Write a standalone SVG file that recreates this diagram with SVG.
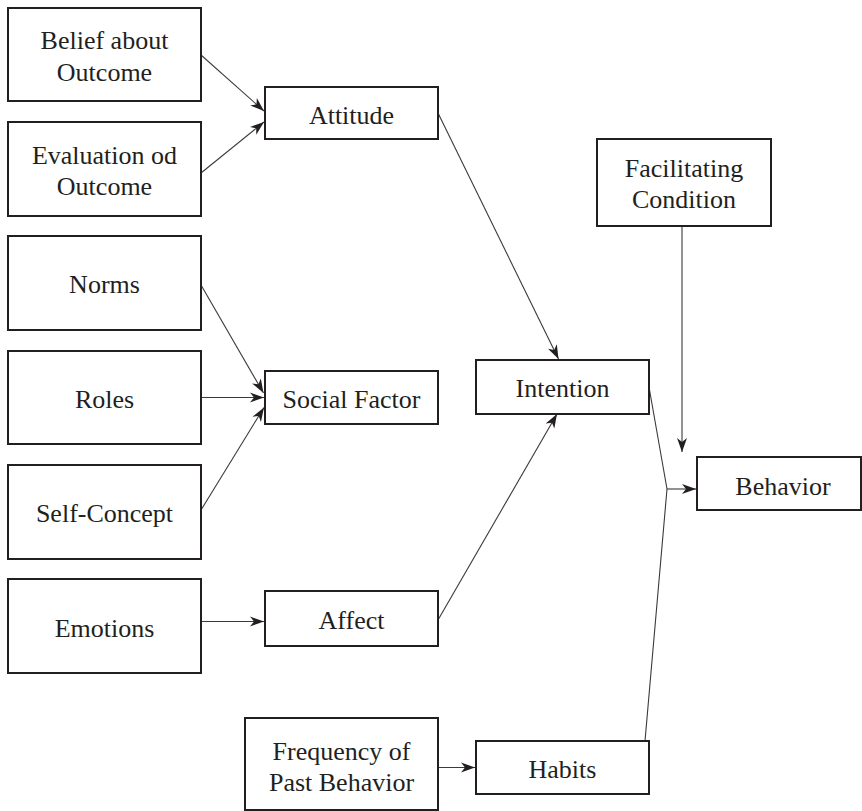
<svg xmlns="http://www.w3.org/2000/svg" width="862" height="811" viewBox="0 0 862 811">
<defs>
<style>
.box{fill:#fff;stroke:#231f20;stroke-width:2}
.lbl{font-size:26px;fill:#231f20;text-anchor:middle}
.con{fill:none;stroke:#3a3a3a;stroke-width:1.1}
</style>
<marker id="arr" markerUnits="userSpaceOnUse" markerWidth="15" markerHeight="11" refX="14" refY="5.5" orient="auto">
<path d="M0,0.5 L14,5.5 L0,10.5 L4,5.5 Z" fill="#231f20"/>
</marker>
</defs>
<rect width="862" height="811" fill="#fff"/>
<g id="connectors">
<line class="con" x1="201" y1="55" x2="264" y2="111" marker-end="url(#arr)"/>
<line class="con" x1="201" y1="173" x2="264" y2="122" marker-end="url(#arr)"/>
<line class="con" x1="201" y1="285" x2="263.5" y2="393" marker-end="url(#arr)"/>
<line class="con" x1="201" y1="397.5" x2="264" y2="397.5" marker-end="url(#arr)"/>
<line class="con" x1="201" y1="510" x2="264" y2="407.5" marker-end="url(#arr)"/>
<line class="con" x1="201" y1="621.5" x2="264" y2="621.5" marker-end="url(#arr)"/>
<line class="con" x1="438" y1="113" x2="558.5" y2="359" marker-end="url(#arr)"/>
<line class="con" x1="438" y1="620" x2="557" y2="414" marker-end="url(#arr)"/>
<line class="con" x1="438" y1="767.5" x2="475" y2="767.5" marker-end="url(#arr)"/>
<line class="con" x1="682" y1="226" x2="682" y2="452" marker-end="url(#arr)"/>
<polyline class="con" points="649,387 667,489 645,741"/>
<line class="con" x1="667" y1="489" x2="696" y2="489" marker-end="url(#arr)"/>
</g>
<g font-family="'Liberation Serif', 'Times New Roman', 'DejaVu Serif', serif">
<g id="belief"><rect class="box" x="8" y="8" width="193" height="93"/><text class="lbl" x="104.5" y="49">Belief about</text><text class="lbl" x="104.5" y="81">Outcome</text></g>
<g id="evaluation"><rect class="box" x="8" y="122" width="193" height="94"/><text class="lbl" x="104.5" y="164">Evaluation od</text><text class="lbl" x="104.5" y="195">Outcome</text></g>
<g id="attitude"><rect class="box" x="265" y="87" width="173" height="52"/><text class="lbl" x="351.5" y="124">Attitude</text></g>
<g id="norms"><rect class="box" x="8" y="236" width="193" height="94"/><text class="lbl" x="104.5" y="293">Norms</text></g>
<g id="roles"><rect class="box" x="8" y="351" width="193" height="93"/><text class="lbl" x="104.5" y="407.5">Roles</text></g>
<g id="selfconcept"><rect class="box" x="8" y="465" width="193" height="94"/><text class="lbl" x="104.5" y="522">Self-Concept</text></g>
<g id="socialfactor"><rect class="box" x="265" y="371" width="173" height="53"/><text class="lbl" x="351.5" y="407.5">Social Factor</text></g>
<g id="emotions"><rect class="box" x="8" y="579" width="193" height="94"/><text class="lbl" x="104.5" y="636.5">Emotions</text></g>
<g id="affect"><rect class="box" x="265" y="591" width="173" height="55"/><text class="lbl" x="351.5" y="628.5">Affect</text></g>
<g id="frequency"><rect class="box" x="245" y="718" width="193" height="92"/><text class="lbl" x="341.5" y="760">Frequency of</text><text class="lbl" x="341.5" y="791">Past Behavior</text></g>
<g id="habits"><rect class="box" x="476" y="741" width="173" height="53"/><text class="lbl" x="562.5" y="778">Habits</text></g>
<g id="intention"><rect class="box" x="476" y="360" width="173" height="54"/><text class="lbl" x="562.5" y="397">Intention</text></g>
<g id="facilitating"><rect class="box" x="597" y="139" width="174" height="87"/><text class="lbl" x="684" y="177">Facilitating</text><text class="lbl" x="684" y="208">Condition</text></g>
<g id="behavior"><rect class="box" x="697" y="457" width="164" height="53"/><text class="lbl" x="783" y="495">Behavior</text></g>
</g>
</svg>
